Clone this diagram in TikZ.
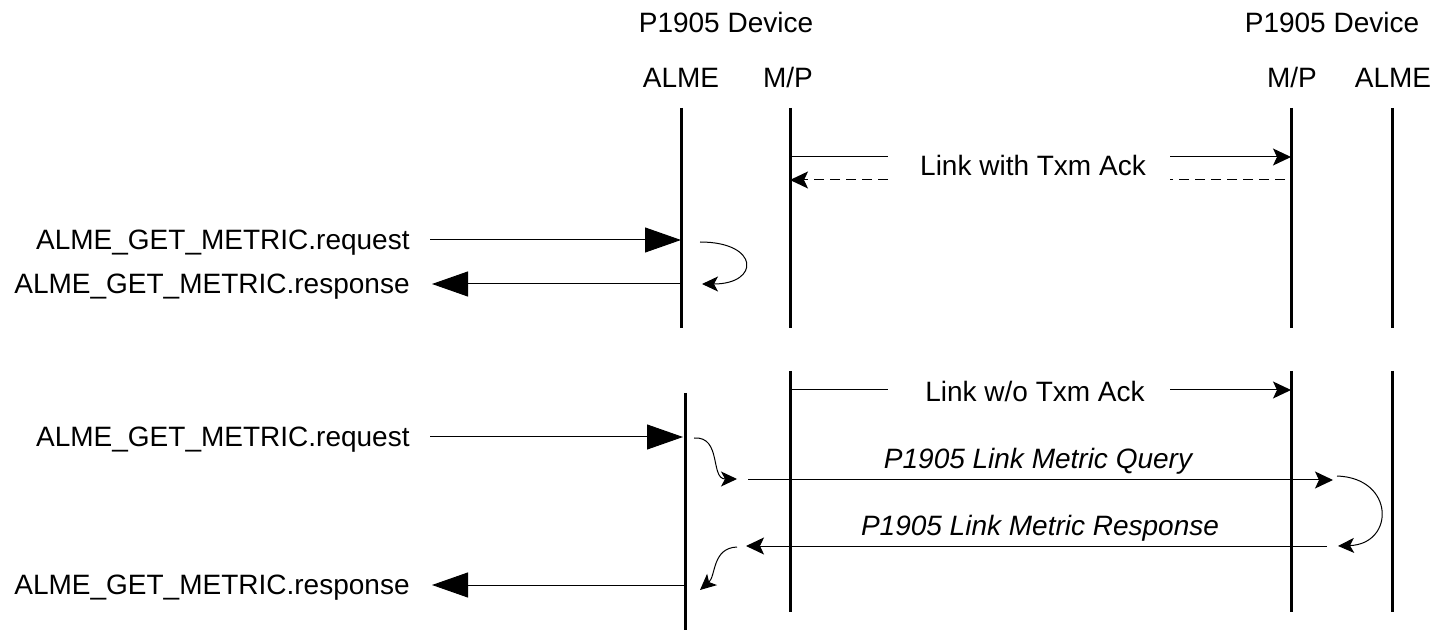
\documentclass[tikz,border=0pt]{standalone}
\usepackage{fontspec}
\setmainfont{Liberation Sans}
\usetikzlibrary{arrows.meta}
\begin{document}
\begin{tikzpicture}[x=0.5pt,y=-0.5pt,font=\fontsize{14}{16}\selectfont,line join=round,
  lifeline/.style={line width=1.5pt},
  msg/.style={line width=0.5pt},
  bighead/.style={-{Triangle[length=18pt,width=12.5pt]}},
  smallhead/.style={-{Stealth[length=9pt,width=8.5pt,inset=2pt]}},
  loophead/.style={-{Stealth[length=8pt,width=7.5pt,inset=2pt]}},
  lbl/.style={inner sep=0pt}]
\useasboundingbox (0,0) rectangle (1435,630);
% headers
\node[lbl,anchor=base] (devL) at (726,33) {P1905 Device};
\node[lbl,anchor=base] (devR) at (1332,33) {P1905 Device};
\node[lbl,anchor=base] (almeL) at (681,88) {ALME};
\node[lbl,anchor=base] (mpL) at (788,88) {M/P};
\node[lbl,anchor=base] (mpR) at (1292,88) {M/P};
\node[lbl,anchor=base] (almeR) at (1393,88) {ALME};
% lifelines, first exchange
\coordinate (almeLt) at (681,108); \coordinate (almeLb) at (681,328);
\coordinate (mpLt) at (790,108);   \coordinate (mpLb) at (790,328);
\coordinate (mpRt) at (1291,108);  \coordinate (mpRb) at (1291,328);
\coordinate (almeRt) at (1392,108); \coordinate (almeRb) at (1392,328);
\foreach \a/\b in {almeLt/almeLb,mpLt/mpLb,mpRt/mpRb,almeRt/almeRb}
  \draw[lifeline] (\a) -- (\b);
% lifelines, second exchange
\coordinate (almeLt2) at (685,393); \coordinate (almeLb2) at (685,630);
\coordinate (mpLt2) at (790,371);   \coordinate (mpLb2) at (790,612);
\coordinate (mpRt2) at (1291,371);  \coordinate (mpRb2) at (1291,612);
\coordinate (almeRt2) at (1392,371); \coordinate (almeRb2) at (1392,612);
\foreach \a/\b in {almeLt2/almeLb2,mpLt2/mpLb2,mpRt2/mpRb2,almeRt2/almeRb2}
  \draw[lifeline] (\a) -- (\b);
% link with Txm Ack
\node[lbl,anchor=base] (lnkA) at (1033,176) {Link with Txm Ack};
\coordinate (lnkAl) at (888,157); \coordinate (lnkAr) at (1170,157);
\coordinate (lnkAdl) at (888,180); \coordinate (lnkAdr) at (1170,180);
\draw[msg] (790,157) coordinate (mpA1) -- (lnkAl);
\draw[msg,smallhead] (lnkAr) -- (1291,157) coordinate (mpB1);
\draw[msg,dashed,dash pattern=on 5pt off 3pt] (1285,180) coordinate (mpB2) -- (lnkAdr);
\draw[msg,dashed,dash pattern=on 5pt off 3pt,smallhead] (lnkAdl) -- (790,180) coordinate (mpA2);
% first get metric
\node[lbl,anchor=base east] (reqA) at (410,250) {ALME\_GET\_METRIC.request};
\node[lbl,anchor=base east] (rspA) at (410,294) {ALME\_GET\_METRIC.response};
\coordinate (reqAs) at (430,240); \coordinate (reqAe) at (681,240);
\coordinate (rspAs) at (681,284); \coordinate (rspAe) at (432,284);
\draw[msg,bighead] (reqAs) -- (reqAe);
\draw[msg,bighead] (rspAs) -- (rspAe);
\draw[msg,loophead] (700,242) .. controls (760,242) and (760,284) .. (702,284);
% link w/o Txm Ack
\node[lbl,anchor=base] (lnkB) at (1035,402) {Link w/o Txm Ack};
\coordinate (lnkBl) at (888,390); \coordinate (lnkBr) at (1170,390);
\draw[msg] (790,390) coordinate (mpA3) -- (lnkBl);
\draw[msg,smallhead] (lnkBr) -- (1291,390) coordinate (mpB3);
% second get metric
\node[lbl,anchor=base east] (reqB) at (410,447) {ALME\_GET\_METRIC.request};
\node[lbl,anchor=base east] (rspB) at (410,594) {ALME\_GET\_METRIC.response};
\coordinate (reqBs) at (430,437); \coordinate (reqBe) at (683,437);
\coordinate (rspBs) at (685,585); \coordinate (rspBe) at (432,585);
\draw[msg,bighead] (reqBs) -- (reqBe);
\draw[msg,bighead] (rspBs) -- (rspBe);
\draw[msg,loophead] (694,438) .. controls (722,436) and (710,479) .. (737,479);
% query and response
\node[lbl,anchor=base,font=\fontsize{14}{16}\selectfont\itshape] (qry) at (1038,468) {P1905 Link Metric Query};
\node[lbl,anchor=base,font=\fontsize{14}{16}\selectfont\itshape] (rsp) at (1040,535) {P1905 Link Metric Response};
\coordinate (qrys) at (748,480); \coordinate (qrye) at (1333,480);
\coordinate (rsps) at (1327,546); \coordinate (rspe) at (746,546);
\draw[msg,smallhead] (qrys) -- (qrye);
\draw[msg,loophead] (1337,476) .. controls (1395,478) and (1395,544) .. (1338,546);
\draw[msg,smallhead] (rsps) -- (rspe);
\draw[msg,loophead] (737,547) .. controls (712,548) and (716,576) .. (700,590);
\end{tikzpicture}
\end{document}
